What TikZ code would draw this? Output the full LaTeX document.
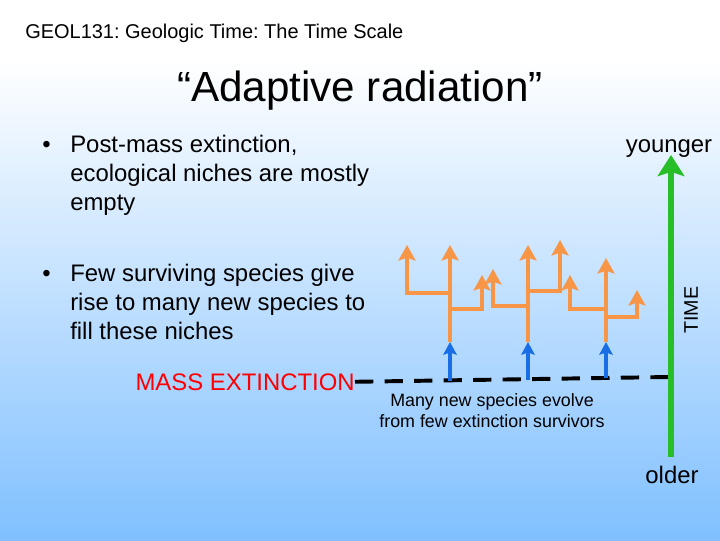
\documentclass[tikz,border=0pt]{standalone}
\usepackage{fontspec}
\setmainfont{Liberation Sans}
\usepackage{tikz}
\usetikzlibrary{arrows.meta}
\frenchspacing

\definecolor{twigorange}{RGB}{247,150,70}
\definecolor{rootblue}{RGB}{25,110,230}
\definecolor{timegreen}{RGB}{40,190,40}
\definecolor{skyblue}{RGB}{128,192,255}

\begin{document}
\begin{tikzpicture}[x=0.025cm,y=-0.025cm,
    twig/.style={twigorange,line width=3.4pt,-{Stealth[width=12pt,length=11pt,inset=2pt]}},
    survivor/.style={rootblue,line width=2.8pt,-{Stealth[width=9.5pt,length=9pt,inset=1.5pt]}},
    bodytext/.style={inner sep=0pt,font=\fontsize{17}{20.5}\selectfont}]
    \useasboundingbox (0,0) rectangle (720,540);
    \fill [white] (0,0) rectangle (720,60);
    \shade [top color=white,bottom color=skyblue] (0,60) rectangle (720,540);

    % headings
    \node [anchor=base west,inner sep=0pt,font=\fontsize{14.2}{16}\selectfont] (header) at (25,38) {GEOL131: Geologic Time: The Time Scale};
    \node [anchor=base,inner sep=0pt,font=\fontsize{30}{36}\selectfont] (title) at (360,101) {“Adaptive radiation”};

    % bullets (base = last line)
    \node [bodytext,anchor=base west] (dotA) at (42,152) {•};
    \node [bodytext,anchor=base west,align=left] (textA) at (70,210) {Post-mass extinction,\\ecological niches are mostly\\empty};
    \node [bodytext,anchor=base west] (dotB) at (42,281) {•};
    \node [bodytext,anchor=base west,align=left] (textB) at (70,339) {Few surviving species give\\rise to many new species to\\fill these niches};

    % extinction level
    \node [bodytext,anchor=base east,text=red] (mass) at (355,390) {MASS EXTINCTION};
    \coordinate (dashend) at (668,377);
    \draw [line width=2.8pt,dash pattern=on 13pt off 8pt] (mass.east) -- (dashend);
    \node [align=center,font=\fontsize{12.7}{15}\selectfont] (caption) at (492,411) {Many new species evolve\\from few extinction survivors};

    % survivors and their radiations
    \foreach \x/\y/\top [count=\i] in {450/381/245,528/379.5/245,606/378/258} {
      \coordinate (s\i) at (\x,\y);
      \coordinate (r\i) at (\x,342);
      \coordinate (crown\i) at (\x,\top);
      \draw [survivor] (s\i) -- (r\i);
      \draw [twig] (r\i) -- (crown\i);
    }
    \foreach \x/\fy/\tx/\ty [count=\i] in {450/293/407/245,450/309/482/275,528/306/493/269,528/291/560/240,606/309/570/275,606/317/637/290} {
      \coordinate (fork\i) at (\x,\fy);
      \coordinate (tip\i) at (\tx,\ty);
      \draw [twig] (fork\i) -| (tip\i);
    }

    % time axis
    \node [bodytext,anchor=base] (younger) at (669,152) {younger};
    \node [bodytext,anchor=base] (older) at (672,483) {older};
    \node [inner sep=0pt,rotate=90,font=\fontsize{14}{16}\selectfont] (time) at (691,310) {TIME};
    \coordinate (past) at (671,457);
    \coordinate (now) at (671,155);
    \draw [timegreen,line width=4.3pt,-{Stealth[width=19pt,length=15pt,inset=3pt]}] (past) -- (now);
\end{tikzpicture}
\end{document}
